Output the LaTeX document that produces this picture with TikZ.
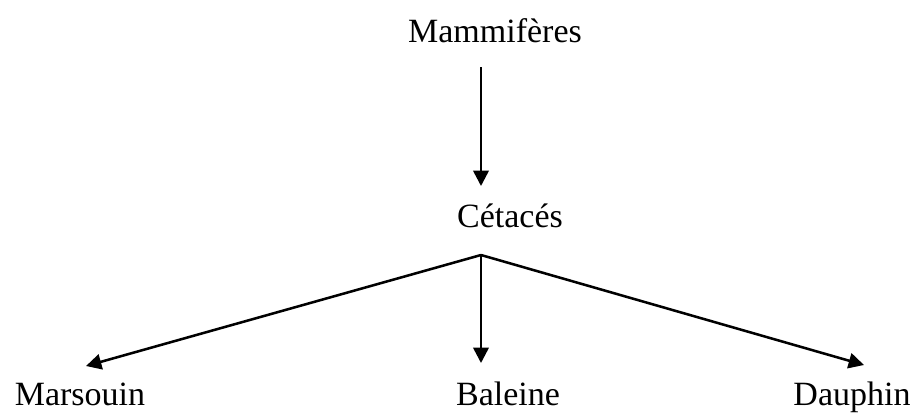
\documentclass[tikz,border=0pt]{standalone}
\usepackage{fontspec}
\setmainfont{Liberation Serif}
\usetikzlibrary{arrows.meta}
\begin{document}
\begin{tikzpicture}[x=0.75pt,y=-0.75pt,
  lbl/.style={anchor=base,inner sep=0pt,font=\fontsize{25.5}{30}\selectfont},
  arr/.style={line width=1.9pt,-{Triangle[length=11.5pt,width=11.5pt]}}]
\useasboundingbox (0,0) rectangle (915,412);
\node[lbl] (m) at (495,42) {Mammifères};
\node[lbl] (c) at (510,227) {Cétacés};
\node[lbl] (ma) at (80,405) {Marsouin};
\node[lbl] (b) at (508,405) {Baleine};
\node[lbl] (d) at (852,405) {Dauphin};
\coordinate (mtop) at (481,67);
\coordinate (ctip) at (481,186);
\coordinate (j) at (481,255);
\coordinate (matip) at (86,366);
\coordinate (btip) at (481,363);
\coordinate (dtip) at (864,365);
\draw[arr] (mtop) -- (ctip);
\draw[arr] (j) -- (matip);
\draw[arr] (j) -- (btip);
\draw[arr] (j) -- (dtip);
\end{tikzpicture}
\end{document}
